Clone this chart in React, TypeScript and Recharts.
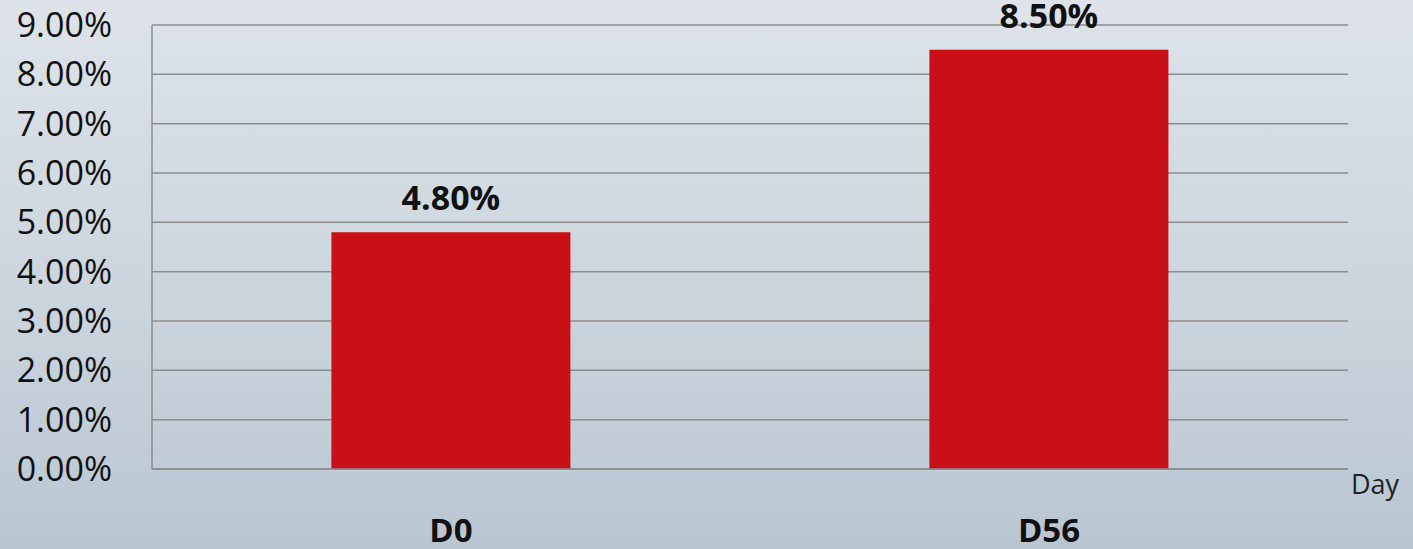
import { BarChart, Bar, XAxis, YAxis, CartesianGrid, LabelList } from 'recharts';

const days = ['D0', 'D56'];
const rates = [0.048, 0.085];
const yTicks = [0, 0.01, 0.02, 0.03, 0.04, 0.05, 0.06, 0.07, 0.08, 0.09];

const data = days.map((day, i) => ({ day, rate: rates[i] }));

const pct = (v: number) => `${(v * 100).toFixed(2)}%`;
const font = '"Open Sans", Calibri, sans-serif';

export default function App() {
  return (
    <div
      style={{
        position: 'absolute',
        left: 0,
        top: 0,
        width: 1413,
        height: 549,
        background: 'linear-gradient(180deg, #dde3e9 0%, #cdd6de 50%, #b9c6d2 100%)',
        fontFamily: font,
      }}
    >
      <BarChart
        width={1413}
        height={549}
        data={data}
        margin={{ top: 25, right: 65, bottom: 0, left: 0 }}
        barCategoryGap="30%"
      >
        <CartesianGrid vertical={false} stroke="#8c8c8c" strokeWidth={1.5} />
        <XAxis
          dataKey="day"
          height={80}
          axisLine={{ stroke: '#8c8c8c', strokeWidth: 1.5 }}
          tickLine={false}
          tickSize={0}
          tickMargin={50}
          tick={{ fill: '#111', fontSize: 33, fontWeight: 700, fontFamily: font }}
        />
        <YAxis
          domain={[0, 0.09]}
          ticks={yTicks}
          width={152}
          tickFormatter={pct}
          axisLine={{ stroke: '#8c8c8c', strokeWidth: 1.5 }}
          tickLine={false}
          tickSize={0}
          tickMargin={40}
          interval={0}
          tick={{ fill: '#111', fontSize: 34, fontFamily: font }}
        />
        <Bar dataKey="rate" fill="#c81016" isAnimationActive={false}>
          <LabelList
            dataKey="rate"
            position="top"
            offset={22}
            formatter={(v: number) => pct(v)}
            style={{ fill: '#111', fontSize: 34, fontWeight: 700, fontFamily: font }}
          />
        </Bar>
      </BarChart>
      <div
        style={{
          position: 'absolute',
          left: 1351,
          top: 465,
          fontSize: 27,
          color: '#222',
          fontFamily: font,
        }}
      >
        Day
      </div>
    </div>
  );
}
